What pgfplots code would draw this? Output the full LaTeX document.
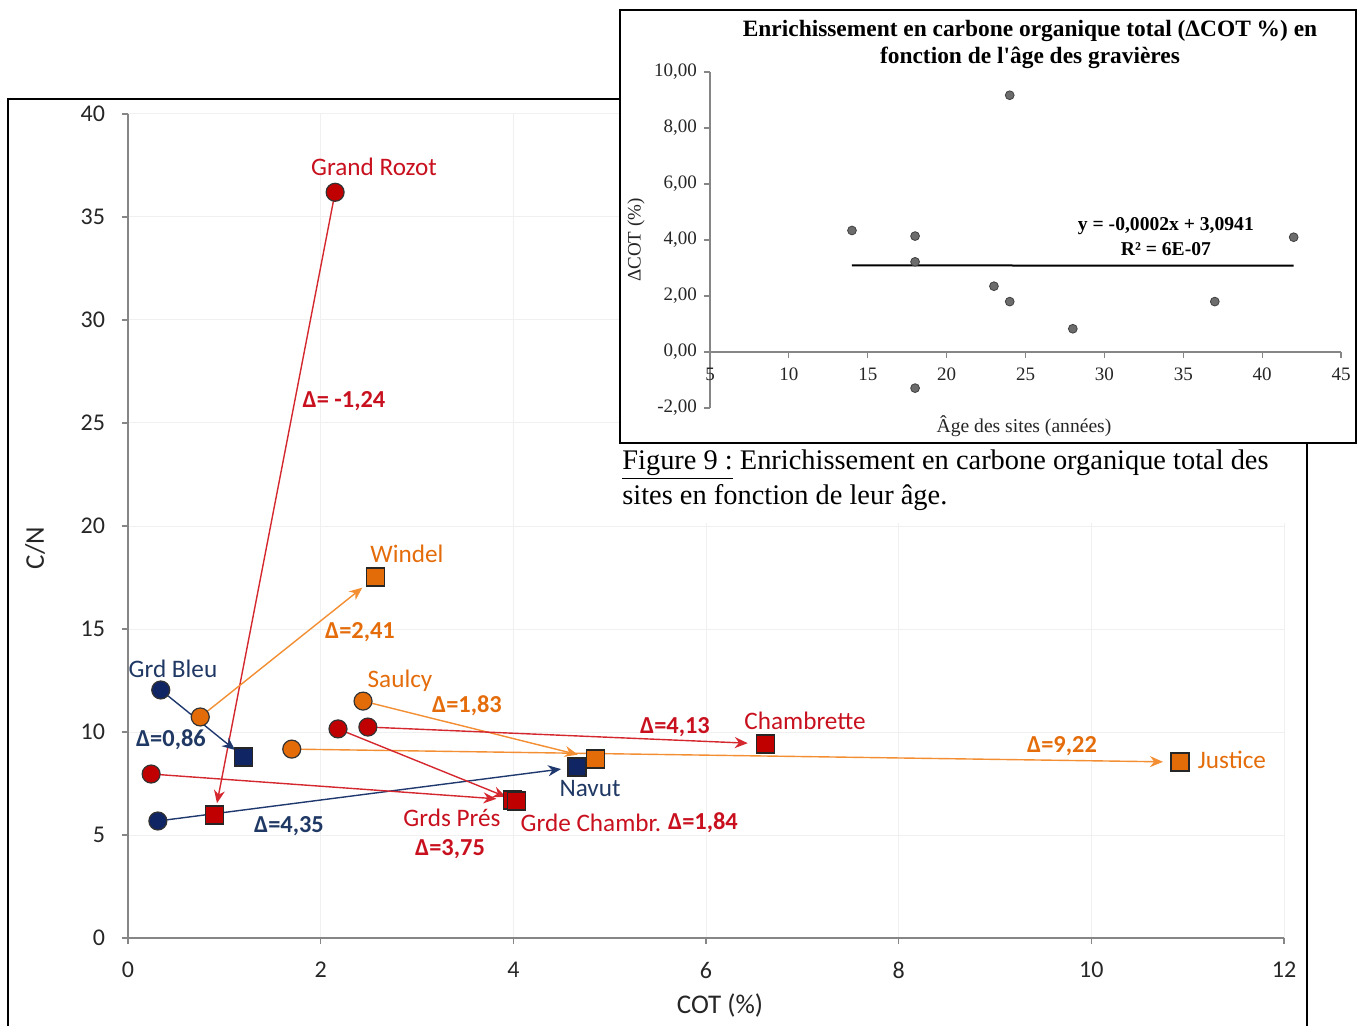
\documentclass[border=0pt]{standalone}
\usepackage{pgfplots}
\pgfplotsset{compat=1.18}
\usepackage{fontspec}
\setmainfont{Carlito}
\newfontfamily\gar{Liberation Serif}
\usetikzlibrary{arrows.meta}
\definecolor{axisgray}{RGB}{134,134,134}
\definecolor{mred}{RGB}{192,0,0}
\definecolor{morange}{RGB}{227,108,9}
\definecolor{mnavy}{RGB}{16,37,99}
\definecolor{ared}{RGB}{212,40,46}
\definecolor{aorange}{RGB}{243,142,50}
\definecolor{anavy}{RGB}{31,56,110}
\definecolor{tred}{RGB}{200,16,30}
\definecolor{torange}{RGB}{228,108,10}
\definecolor{tnavy}{RGB}{31,56,100}
\tikzset{nl/.style={font=\fontsize{12.6}{14}\selectfont, inner sep=0pt},
         dl/.style={font=\fontsize{12.2}{14}\selectfont\bfseries, inner sep=0pt}}
\begin{document}
\begin{tikzpicture}
\path[use as bounding box] (0pt,0pt) rectangle (681pt,512.5pt);
\draw[line width=1pt] (4pt,-5pt) rectangle (653.5pt,463pt);
\begin{axis}[at={(64pt,43.5pt)}, anchor=south west, scale only axis,
  width=578pt, height=412pt, xmin=0, xmax=12, ymin=0, ymax=40,
  xtick={0,2,...,12}, ytick={0,5,...,40},
  axis x line=bottom, axis y line=left,
  axis line style={-, draw=axisgray, line width=0.6pt},
  tick style={draw=axisgray, line width=0.6pt}, tick align=outside,
  major tick length=3pt,
  grid=major, grid style={draw=gray!12, line width=0.5pt},
  tick label style={font=\fontsize{12}{14}\selectfont, text=black!85},
  xticklabel style={yshift=-5.5pt},
  yticklabel style={xshift=-5pt},
  /pgf/number format/assume math mode=true, clip=false]
% arrows
\addplot[ared, line width=0.7pt, -{Stealth[length=6.5pt,width=5.5pt]}, shorten >=6pt] coordinates {(2.15,36.2) (0.90,5.97)};
\addplot[aorange, line width=0.7pt, -{Stealth[length=6.5pt,width=5.5pt]}, shorten >=8.5pt] coordinates {(0.75,10.73) (2.57,17.52)};
\addplot[anavy, line width=0.7pt, -{Stealth[length=6.5pt,width=5.5pt]}, shorten >=5.5pt] coordinates {(0.34,12.04) (1.20,8.79)};
\addplot[anavy, line width=0.7pt, -{Stealth[length=6.5pt,width=5.5pt]}, shorten >=8pt] coordinates {(0.31,5.68) (4.66,8.30)};
\addplot[aorange, line width=0.7pt, -{Stealth[length=6.5pt,width=5.5pt]}, shorten >=9pt] coordinates {(2.44,11.5) (4.85,8.69)};
\addplot[aorange, line width=0.7pt, -{Stealth[length=6.5pt,width=5.5pt]}, shorten >=8.5pt] coordinates {(1.70,9.17) (10.92,8.54)};
\addplot[ared, line width=0.7pt, -{Stealth[length=6.5pt,width=5.5pt]}, shorten >=9pt] coordinates {(2.49,10.24) (6.62,9.42)};
\addplot[ared, line width=0.7pt, -{Stealth[length=6.5pt,width=5.5pt]}, shorten >=8pt] coordinates {(0.24,7.96) (3.99,6.70)};
\addplot[ared, line width=0.7pt, -{Stealth[length=6.5pt,width=5.5pt]}, shorten >=5.5pt] coordinates {(2.18,10.15) (4.03,6.65)};
% start circles
\addplot[only marks, mark=*, mark size=4.5pt, mark options={fill=mred, draw=black!80, line width=0.6pt}] coordinates {(2.15,36.2) (0.24,7.96) (2.18,10.15) (2.49,10.24)};
\addplot[only marks, mark=*, mark size=4.5pt, mark options={fill=morange, draw=black!80, line width=0.6pt}] coordinates {(0.75,10.73) (2.44,11.5) (1.70,9.17)};
\addplot[only marks, mark=*, mark size=4.5pt, mark options={fill=mnavy, draw=black!80, line width=0.6pt}] coordinates {(0.34,12.04) (0.31,5.68)};
% end squares
\addplot[only marks, mark=square*, mark size=4.5pt, mark options={fill=mnavy, draw=black!85, line width=0.6pt}] coordinates {(1.20,8.79) (4.66,8.30)};
\addplot[only marks, mark=square*, mark size=4.5pt, mark options={fill=mred, draw=black!85, line width=0.6pt}] coordinates {(0.90,5.97) (3.99,6.70) (4.03,6.65) (6.62,9.42)};
\addplot[only marks, mark=square*, mark size=4.5pt, mark options={fill=morange, draw=black!85, line width=0.6pt}] coordinates {(2.57,17.52) (4.85,8.69) (10.92,8.54)};
% labels
\node[nl, text=tred] at (axis cs:2.554,37.43) {Grand Rozot};
\node[dl, text=tred] at (axis cs:2.242,26.07) {Δ= -1,24};
\node[nl, text=torange] at (axis cs:2.896,18.64) {Windel};
\node[dl, text=torange] at (axis cs:2.408,14.85) {Δ=2,41};
\node[nl, text=tnavy] at (axis cs:0.467,13.06) {Grd Bleu};
\node[dl, text=tnavy] at (axis cs:0.446,9.61) {Δ=0,86};
\node[nl, text=torange] at (axis cs:2.824,12.48) {Saulcy};
\node[dl, text=torange] at (axis cs:3.519,11.26) {Δ=1,83};
\node[dl, text=tred] at (axis cs:5.678,10.24) {Δ=4,13};
\node[nl, text=tred] at (axis cs:7.028,10.53) {Chambrette};
\node[dl, text=torange] at (axis cs:9.696,9.32) {Δ=9,22};
\node[nl, text=torange] at (axis cs:11.46,8.64) {Justice};
\node[nl, text=tnavy] at (axis cs:4.796,7.28) {Navut};
\node[nl, text=tred] at (axis cs:3.363,5.83) {Grds Prés};
\node[nl, text=tred] at (axis cs:4.806,5.58) {Grde Chambr.};
\node[dl, text=tred] at (axis cs:5.969,5.58) {Δ=1,84};
\node[dl, text=tnavy] at (axis cs:1.671,5.44) {Δ=4,35};
\node[dl, text=tred] at (axis cs:3.343,4.32) {Δ=3,75};
\end{axis}
\node[font=\fontsize{13.5}{15}\selectfont, text=black!85] at (360pt,10pt) {COT (\%)};
\node[font=\fontsize{13.5}{15}\selectfont, text=black!85, rotate=90] at (17.5pt,238.5pt) {C/N};
% caption area
\fill[white] (310pt,251pt) rectangle (652.5pt,291pt);
\node[anchor=west, font=\gar\fontsize{14.2}{16}\selectfont, inner sep=0pt] at (311pt,280pt) {\underline{Figure 9 :} Enrichissement en carbone organique total des};
\node[anchor=west, font=\gar\fontsize{14.2}{16}\selectfont, inner sep=0pt] at (311pt,263.5pt) {sites en fonction de leur âge.};
% inset
\draw[fill=white, line width=1pt] (310pt,291pt) rectangle (678pt,507.5pt);
\begin{axis}[at={(355pt,308.5pt)}, anchor=south west, scale only axis,
  width=315.5pt, height=168pt, xmin=5, xmax=45, ymin=-2, ymax=10,
  xtick={5,10,...,45}, ytick={-2,0,...,10},
  axis x line=middle, axis y line=left,
  hide obscured x ticks=false, hide obscured y ticks=false,
  axis line style={-, draw=axisgray, line width=0.6pt},
  tick style={draw=axisgray, line width=0.6pt}, tick align=outside,
  major tick length=3pt,
  tick label style={font=\gar\fontsize{9.5}{11}\selectfont, text=black!85},
  xticklabel style={yshift=-1.5pt},
  yticklabel style={/pgf/number format/.cd, fixed, fixed zerofill, precision=2, use comma},
  /pgf/number format/assume math mode=true, clip=false]
\addplot[only marks, mark=*, mark size=2.2pt, mark options={fill=gray!85!black, draw=black!75, line width=0.4pt}] coordinates {(14,4.34) (18,4.14) (18,3.22) (18,-1.29) (23,2.35) (24,9.17) (24,1.80) (28,0.83) (37,1.80) (42,4.10)};
\addplot[black, line width=1pt] coordinates {(14,3.0913) (42,3.0857)};
\node[font=\gar\bfseries\fontsize{9.8}{11}\selectfont, inner sep=0pt] at (axis cs:33.9,4.50) {y = -0,0002x + 3,0941};
\node[font=\gar\bfseries\fontsize{9.8}{11}\selectfont, inner sep=0pt] at (axis cs:33.9,3.68) {R² = 6E-07};
\end{axis}
\node[font=\gar\bfseries\fontsize{11.7}{13}\selectfont, inner sep=0pt] at (515pt,497pt) {Enrichissement en carbone organique total (ΔCOT \%) en};
\node[font=\gar\bfseries\fontsize{11.7}{13}\selectfont, inner sep=0pt] at (515pt,483.5pt) {fonction de l'âge des gravières};
\node[font=\gar\fontsize{9.5}{11}\selectfont, text=black!85, rotate=90, inner sep=0pt] at (318pt,392.5pt) {ΔCOT (\%)};
\node[font=\gar\fontsize{9.8}{11}\selectfont, text=black!85, inner sep=0pt] at (512pt,299.5pt) {Âge des sites (années)};
\end{tikzpicture}
\end{document}
